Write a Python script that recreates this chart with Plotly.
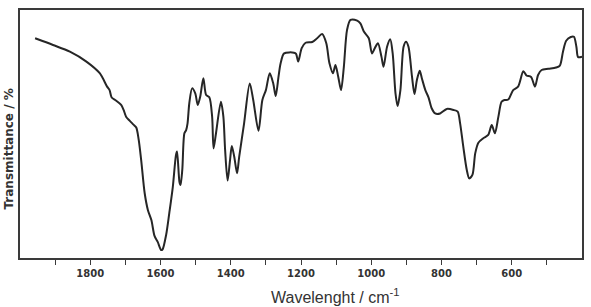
import plotly.graph_objects as go

# IR spectrum (wavenumber in cm^-1, transmittance in %)
wavenumber = [1957, 1906, 1858, 1811, 1773, 1752, 1745, 1739, 1726, 1712, 1705, 1698,
              1688, 1677, 1669, 1662, 1655, 1645, 1636, 1626, 1617, 1608, 1598, 1594,
              1584, 1575, 1565, 1556, 1553, 1546, 1543, 1538, 1532, 1527, 1523, 1518,
              1510, 1501, 1494, 1487, 1478, 1470, 1461, 1453, 1449, 1442, 1428, 1421,
              1416, 1409, 1402, 1397, 1390, 1382, 1376, 1362, 1346, 1336, 1321, 1310,
              1300, 1289, 1279, 1272, 1264, 1258, 1248, 1220, 1214, 1208, 1198, 1187,
              1168, 1154, 1140, 1128, 1119, 1109, 1102, 1094, 1086, 1078, 1069, 1059,
              1040, 1031, 1021, 1007, 998, 990, 981, 971, 965, 955, 946, 939,
              931, 925, 917, 908, 901, 894, 884, 877, 870, 862, 856, 846,
              837, 828, 818, 804, 785, 766, 754, 747, 738, 728, 721, 712,
              704, 695, 681, 667, 657, 648, 638, 629, 621, 610, 596, 582,
              567, 558, 545, 534, 525, 515, 496, 474, 463, 454, 445, 432,
              423, 416, 411, 400]
transmittance = [88.6, 85.9, 83.2, 79.2, 74.5, 69.1, 67.7, 64.7, 63.4, 61.7, 59.7, 57.0,
                 55.4, 53.8, 52.6, 47.6, 39.5, 26.1, 19.4, 15.3, 8.9, 6.5, 3.2, 3.5,
                 9.3, 18.1, 28.6, 41.5, 42.9, 30.6, 29.4, 35.5, 50.3, 51.6, 54.3, 62.4,
                 68.4, 66.4, 61.7, 65.0, 72.5, 65.7, 64.8, 57.0, 44.2, 50.3, 63.0, 57.0,
                 43.5, 31.2, 39.5, 45.2, 40.8, 34.2, 40.8, 54.3, 70.4, 63.7, 51.3, 63.7,
                 67.7, 74.5, 70.4, 65.3, 73.1, 78.5, 82.5, 82.8, 82.3, 79.2, 84.6, 86.8,
                 87.1, 88.6, 90.3, 86.6, 78.5, 74.5, 77.8, 73.1, 67.7, 77.1, 91.9, 96.0,
                 95.7, 94.6, 91.3, 88.6, 82.5, 84.6, 86.6, 81.2, 77.1, 85.2, 88.2, 82.5,
                 66.4, 61.3, 67.7, 85.2, 87.2, 85.2, 73.1, 66.1, 71.8, 75.5, 72.5, 67.7,
                 64.8, 60.4, 58.3, 58.3, 60.1, 59.7, 59.0, 54.3, 44.9, 35.5, 32.1, 33.5,
                 42.2, 46.5, 48.3, 49.6, 53.6, 50.3, 57.0, 63.0, 63.7, 63.9, 67.7, 69.1,
                 75.3, 73.6, 73.0, 69.1, 73.8, 75.8, 76.3, 76.8, 77.6, 83.3, 87.6, 89.1,
                 89.2, 85.2, 81.0, 81.2]

tick_values = [1800, 1600, 1400, 1200, 1000, 800, 600]
tick_labels = ["1800", "1600", "1400", "1200", "1000", "800", "600"]

fig = go.Figure()
fig.add_trace(go.Scatter(
    x=wavenumber, y=transmittance, mode="lines",
    line=dict(color="#262626", width=2, shape="spline", smoothing=0.8),
    hoverinfo="skip", showlegend=False,
))

axis_color = "#3a3a3a"
fig.update_layout(
    width=591, height=307,
    margin=dict(l=20, r=7, t=10, b=49),
    paper_bgcolor="white", plot_bgcolor="white",
    xaxis=dict(
        range=[2000, 400], showgrid=False, zeroline=False,
        showline=True, mirror=True, linecolor=axis_color, linewidth=1.5,
        ticks="outside", ticklen=5, tickwidth=1.2, tickcolor=axis_color,
        tickvals=tick_values, ticktext=tick_labels,
        tickfont=dict(family="DejaVu Sans", size=10, color="#333", weight="bold"),
        minor=dict(tickvals=[1900, 1700, 1500, 1300, 1100, 900, 700, 500],
                   ticks="outside", ticklen=5, tickwidth=1.2, tickcolor=axis_color),
    ),
    yaxis=dict(
        range=[0, 100], showgrid=False, zeroline=False,
        showline=True, mirror=True, linecolor=axis_color, linewidth=1.5,
        ticks="", showticklabels=False,
    ),
    annotations=[
        dict(text="Wavelenght / cm<sup>-1</sup>", xref="paper", yref="paper",
             x=0.561, y=-0.153, xanchor="center", yanchor="middle", showarrow=False,
             font=dict(family="Liberation Sans", size=16, color="#333")),
        dict(text="Transmittance / %", xref="paper", yref="paper",
             x=-0.0204, y=0.4395, xanchor="center", yanchor="middle", showarrow=False,
             textangle=-90,
             font=dict(family="DejaVu Sans", size=12, color="#333", weight="bold")),
    ],
)

fig.write_html("out.html")
